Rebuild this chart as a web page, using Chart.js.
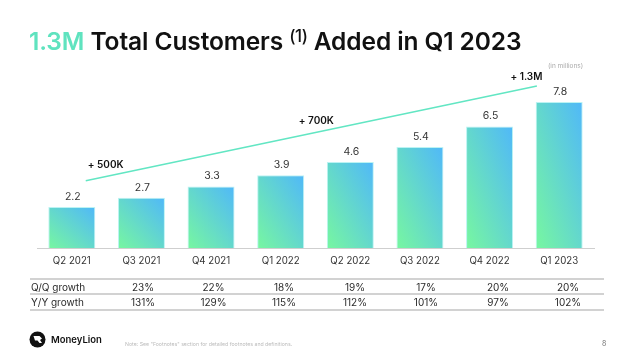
<!DOCTYPE html>
<html><head><meta charset="utf-8">
<style>
html,body{margin:0;padding:0;background:#fff;width:640px;height:353px;overflow:hidden;font-family:Inter,sans-serif}
#c{position:absolute;left:0;top:0}
.t{position:absolute;white-space:nowrap;color:#2b2b2b}
#title{left:29px;top:26px;font-size:24.5px;font-weight:600;color:#111;line-height:30px;letter-spacing:-.1px}
#title b{color:#5fe3bf;font-weight:600}
#title sup{font-size:17px;font-weight:500;line-height:0;position:relative;top:-2px;vertical-align:6px;letter-spacing:-.4px}
.rule{position:absolute;left:30px;width:574px;height:1.5px;background:#d2d2d2}
.cell{font-size:10px;transform:translateX(-50%);line-height:14px}
</style></head><body>
<canvas id="c" width="640" height="353"></canvas>
<div class="t" id="title"><b>1.3M</b> Total Customers <sup>(1)</sup> Added in Q1 2023</div>
<div class="t" style="left:548px;top:61px;font-size:6.5px;color:#aaa;line-height:10px">(in millions)</div>
<div class="rule" style="top:278px"></div><div class="rule" style="top:293px"></div><div class="rule" style="top:309px"></div>
<div id="rows"></div>
<svg style="position:absolute;left:29px;top:331px" width="17" height="17" viewBox="0 0 17 17"><circle cx="8.5" cy="8.5" r="8" fill="#111"/><path d="M4.5 5h6l2.5 2.5-2 1.5 2 3H10.5L8.5 9.500H6z" fill="#fff"/></svg>
<div class="t" style="left:51px;top:332px;font-size:9.500px;font-weight:600;color:#111;line-height:15px">MoneyLion</div>
<div class="t" style="left:125px;top:340px;font-size:5.200px;color:#bbb;line-height:9px">Note: See "Footnotes" section for detailed footnotes and definitions.</div>
<div class="t" style="left:602px;top:339px;font-size:7px;color:#777;line-height:10px">8</div>
<script src="https://cdn.jsdelivr.net/npm/chart.js@4"></script>
<script>
const categories=["Q2 2021","Q3 2021","Q4 2021","Q1 2022","Q2 2022","Q3 2022","Q4 2022","Q1 2023"];
const customers=[2.2,2.7,3.3,3.9,4.6,5.4,6.5,7.8];
const valueLabels=["2.2","2.7","3.3","3.9","4.6","5.4","6.5","7.8"];
const qoq=["23%","22%","18%","19%","17%","20%","20%"];
const yoy=["131%","129%","115%","112%","101%","97%","102%"];
const trendX=[0.2,6.68];
const trendY=[3.6,8.66];
const callouts=[{x:0.23,y:4.3,text:"+ 500K"},{x:3.26,y:6.65,text:"+ 700K"},{x:6.3,y:8.97,text:"+ 1.3M"}];
const rowColumns=[143,213.5,284,355,426,498,568];

const rows=document.getElementById('rows');
function row(label,vals,top){
  let h='<div class="t" style="left:31px;top:'+top+'px;font-size:10px;line-height:14px">'+label+'</div>';
  vals.forEach((v,i)=>{h+='<div class="t cell" style="left:'+rowColumns[i]+'px;top:'+top+'px">'+v+'</div>';});
  rows.innerHTML+=h;
}
row("Q/Q growth",qoq,279.5);row("Y/Y growth",yoy,295);

function barFill(ctx){
  const ch=ctx.chart,a=ch.chartArea;
  if(!a||ctx.type!=='data') return '#66dcc0';
  const xs=ch.scales.x,ys=ch.scales.y;
  const w=(xs.getPixelForValue(1)-xs.getPixelForValue(0))*.675;
  const cx=xs.getPixelForValue(ctx.dataIndex);
  const base=ys.getPixelForValue(0), h=base-ys.getPixelForValue(customers[ctx.dataIndex]);
  const k=2/(1/(w*w)+1/(h*h));
  const x0=cx-w/2;
  const g=ch.ctx.createLinearGradient(x0,base,x0+k/w,base-k/h);
  g.addColorStop(0,'#77f7a0');g.addColorStop(1,'#50b8f9');
  return g;
}
const textPlugin={id:'textPlugin',afterDatasetsDraw(chart){
  const c=chart.ctx,xs=chart.scales.x,ys=chart.scales.y,t=chart.scales.trendX;
  c.save();c.textAlign='center';c.textBaseline='alphabetic';
  c.font='400 10.5px Inter';c.fillStyle='#333';
  customers.forEach((v,i)=>c.fillText(valueLabels[i],xs.getPixelForValue(i)+1,ys.getPixelForValue(v)-7));
  c.font='600 10px Inter';c.fillStyle='#111';c.textAlign='left';
  callouts.forEach(o=>c.fillText(o.text,t.getPixelForValue(o.x),ys.getPixelForValue(o.y)));
  c.restore();
}};
Chart.defaults.font.family='Inter';
new Chart(document.getElementById('c'),{
  type:'bar',
  data:{labels:categories,datasets:[
    {type:'bar',grouped:false,data:customers,backgroundColor:barFill,borderColor:'rgba(170,240,240,.8)',borderWidth:{left:1,right:1,top:1,bottom:0},barPercentage:.675,categoryPercentage:1,order:2,xAxisID:'x',yAxisID:'y'},
    {type:'line',data:trendX.map((x,i)=>({x:x,y:trendY[i]})),borderColor:'#62e6c3',borderWidth:1.6,pointRadius:0,fill:false,order:1,xAxisID:'trendX',yAxisID:'y'}
  ]},
  options:{responsive:false,animation:false,devicePixelRatio:1,
    layout:{padding:{left:37,right:46,top:0,bottom:79}},
    plugins:{legend:{display:false},tooltip:{enabled:false}},
    scales:{
      x:{grid:{display:false,drawTicks:false},border:{color:'#cfcfcf',width:1},
         ticks:{color:'#333',font:{size:9.7},padding:7,maxRotation:0}},
      trendX:{type:'linear',axis:'x',position:'bottom',display:false,offset:false,min:-0.5,max:7.5},
      y:{display:false,min:0,max:13.24}
    }},
  plugins:[textPlugin]
});
</script></body></html>
